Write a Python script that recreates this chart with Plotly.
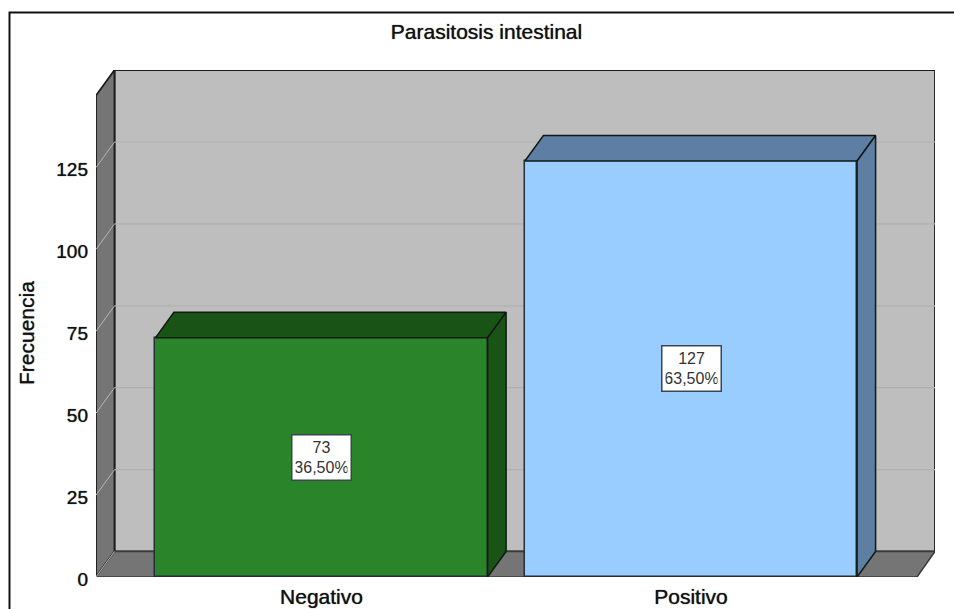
import plotly.graph_objects as go

# Chart content
title = "Parasitosis intestinal"
y_title = "Frecuencia"
categories = ["Negativo", "Positivo"]
counts = [73, 127]
percents = ["36,50%", "63,50%"]
y_ticks = [0, 25, 50, 75, 100, 125]

front_colors = ["#2A852A", "#99CCFF"]
shade_colors = ["#1A5316", "#5E7FA3"]

# Page geometry in pixels
W, H = 954, 609
left, right, top, bottom = 96, 935, 70, 577
front_right = 917
px_per_unit = 3.276
px_per_cat = 369.5
first_center = 321.5
depth_px_x, depth_px_y = 18.5, 25.5
bar_width = 0.899

# Data-space extents; the plot area spans the front plane plus the extruded depth
x_min = (left - first_center) / px_per_cat
x_max = (right - first_center) / px_per_cat
y_max = (bottom - top) / px_per_unit
x_front_max = (front_right - first_center) / px_per_cat
dx = depth_px_x / px_per_cat
dy = depth_px_y / px_per_unit
y_front_max = y_max - dy

WALL = "#757575"
BACK = "#BEBEBE"
GRID = "#B0B0B0"
EDGE = "#1C1C1C"
FONT = "Liberation Sans"
SOFT = "0 0 1px rgba(0,0,0,0.8)"


def poly(xs, ys, fill, line=EDGE, width=1.5):
    path = "M " + " L ".join(f"{a},{b}" for a, b in zip(xs, ys)) + " Z"
    return dict(type="path", path=path, xref="x", yref="y", layer="below",
                fillcolor=fill, line=dict(color=line, width=width))


def seg(x0, y0, x1, y1, color, width=1.0):
    return dict(type="line", x0=x0, y0=y0, x1=x1, y1=y1, xref="x", yref="y",
                layer="below", line=dict(color=color, width=width))


def paper_x(px):
    return (px - left) / (right - left)


def paper_y(px):
    return (bottom - px) / (bottom - top)


shapes = [
    # back wall
    poly([x_min + dx, x_max, x_max, x_min + dx], [dy, dy, y_max, y_max], BACK, EDGE, 1.8),
    # left wall
    poly([x_min, x_min + dx, x_min + dx, x_min], [0, dy, y_max, y_front_max], WALL, EDGE, 1.8),
    # floor
    poly([x_min, x_front_max, x_max, x_min + dx], [0, 0, dy, dy], WALL, "#3A3A3A", 1.5),
]

# Gridlines run along the back wall and down the left wall
for t in y_ticks:
    if t > 0:
        shapes.append(seg(x_min + dx, t + dy, x_max, t + dy, GRID, 1.2))
    shapes.append(seg(x_min, t, x_min + dx, t + dy, "#B5B5B5", 1.0))

# Outer frame, open on the right and at the bottom
shapes.append(dict(
    type="path", xref="paper", yref="paper",
    path=(f"M {paper_x(W)},{paper_y(12.5)} L {paper_x(9.5)},{paper_y(12.5)} "
          f"L {paper_x(9.5)},{paper_y(H)}"),
    line=dict(color="#111111", width=2),
))

fig = go.Figure()

fig.add_trace(go.Bar(
    x=list(range(len(categories))), y=counts, width=bar_width,
    marker=dict(color=front_colors, line=dict(color="#23303A", width=1.5)),
    hoverinfo="skip", showlegend=False,
))

# Extruded top and side faces of each bar
for i, (v, shade) in enumerate(zip(counts, shade_colors)):
    x0, x1 = i - bar_width / 2, i + bar_width / 2
    for xs, ys in (
        ([x0, x0 + dx, x1 + dx, x1, x0], [v, v + dy, v + dy, v, v]),
        ([x1, x1 + dx, x1 + dx, x1, x1], [0, dy, v + dy, v, 0]),
    ):
        fig.add_trace(go.Scatter(
            x=xs, y=ys, mode="lines", fill="toself", fillcolor=shade,
            line=dict(color="#101A14", width=1.5), cliponaxis=False,
            hoverinfo="skip", showlegend=False,
        ))

annotations = [
    dict(x=i, y=v / 2, xref="x", yref="y", text=f"{v}<br>{p}", showarrow=False,
         font=dict(family=FONT, size=16, color="#333333"),
         bgcolor="#FFFFFF", bordercolor="#3C4650", borderwidth=1.5,
         borderpad=3, width=52, height=38, align="center", valign="middle")
    for i, (v, p) in enumerate(zip(counts, percents))
]

# The value-axis title sits on the front plane's centre, not the plot area's
annotations.append(dict(
    x=paper_x(26), y=paper_y(333), xref="paper", yref="paper",
    text=y_title, textangle=-90, showarrow=False,
    xanchor="center", yanchor="middle",
    font=dict(family=FONT, size=21, color="#111111", shadow=SOFT),
))

fig.update_layout(
    width=W, height=H, autosize=False,
    margin=dict(l=left, r=W - right, t=top, b=H - bottom, pad=0, autoexpand=False),
    paper_bgcolor="#FFFFFF", plot_bgcolor="#FFFFFF",
    shapes=shapes, annotations=annotations, bargap=0,
    title=dict(text=title, x=486.5 / W, xref="container",
               xanchor="center", y=1 - 32 / H, yanchor="middle",
               font=dict(family=FONT, size=21, color="#111111", shadow=SOFT)),
    xaxis=dict(range=[x_min, x_max], tickmode="array",
               tickvals=list(range(len(categories))), ticktext=categories,
               showgrid=False, zeroline=False, showline=False, ticks="",
               ticklabelstandoff=5, automargin=False,
               tickfont=dict(family=FONT, size=21, color="#111111", shadow=SOFT)),
    yaxis=dict(range=[0, y_max], tickmode="array", tickvals=y_ticks,
               showgrid=False, zeroline=False, showline=False, ticks="",
               ticklabelstandoff=7, ticklabelshift=2, automargin=False,
               tickfont=dict(family=FONT, size=19, color="#111111", shadow=SOFT)),
)

fig.write_html("out.html", config=dict(displayModeBar=False))
